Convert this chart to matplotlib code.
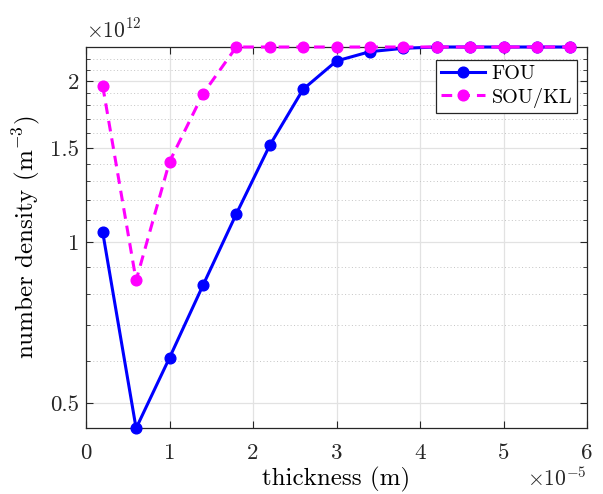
import matplotlib
matplotlib.use("Agg")
import matplotlib.pyplot as plt
import numpy as np
from matplotlib.ticker import FixedLocator, FuncFormatter, NullFormatter

plt.rcParams['font.family'] = ['cmr10', 'DejaVu Serif']
plt.rcParams['mathtext.fontset'] = 'cm'
plt.rcParams['axes.formatter.use_mathtext'] = True

# thickness in units of 1e-5 m
thickness = [0.2, 0.6, 1.0, 1.4, 1.8, 2.2, 2.6, 3.0, 3.4, 3.8, 4.2, 4.6, 5.0, 5.4, 5.8]
# number density in units of 1e12 m^-3
fou = [1.044, 0.449, 0.608, 0.830, 1.129, 1.516, 1.93, 2.18, 2.269, 2.302, 2.315, 2.315, 2.315, 2.315, 2.315]
sou_kl = [1.958, 0.848, 1.413, 1.891, 2.315, 2.315, 2.315, 2.315, 2.315, 2.315, 2.315, 2.315, 2.315, 2.315, 2.315]

yticks = [0.5, 1, 1.5, 2]
yticklabels = ['0.5', '1', '1.5', '2']
xticks = [0, 1, 2, 3, 4, 5, 6]
minor_y = [0.6, 0.7, 0.8, 0.9, 1.1, 1.2, 1.3, 1.4, 1.6, 1.7, 1.8, 1.9, 2.1, 2.2]

fig = plt.figure(figsize=(6.03, 4.94), dpi=100)
ax = fig.add_axes([86/603, 1-428.3/494, (587-86)/603, (428.3-47)/494])

ax.plot(thickness, fou, '-o', color='#0000ff', lw=2.2, markersize=7.7, label='FOU', clip_on=False, zorder=3)
ax.plot(thickness, sou_kl, '--o', color='#ff00ff', lw=2.2, markersize=7.7, label='SOU/KL', clip_on=False,
        dashes=(3.5, 2.3), zorder=4)

ax.set_yscale('log')
ax.set_xlim(0, 6)
ax.set_ylim(0.449, 2.315)
ax.yaxis.set_major_locator(FixedLocator(yticks))
ax.yaxis.set_major_formatter(FuncFormatter(lambda v, p: yticklabels[yticks.index(v)] if v in yticks else ''))
ax.yaxis.set_minor_locator(FixedLocator(minor_y))
ax.yaxis.set_minor_formatter(NullFormatter())
ax.set_xticks(xticks)
ax.set_xticklabels([str(t) for t in xticks])

ax.grid(True, which='major', color='#e2e2e2', lw=0.9, ls='-')
ax.grid(True, which='minor', axis='y', color='#c4c4c4', lw=0.7, ls=(0, (1, 2.5)))
ax.set_axisbelow(True)

for s in ax.spines.values():
    s.set_color('#262626')
    s.set_linewidth(0.9)
ax.tick_params(which='both', direction='in', top=True, right=True, colors='#262626', labelsize=16.5)
ax.tick_params(which='major', length=5)
ax.tick_params(which='minor', length=3)
ax.tick_params(axis='x', pad=11)
ax.tick_params(axis='y', pad=5)

ax.set_xlabel('thickness (m)', fontsize=18, labelpad=3)
ax.set_ylabel('number density (m$^{-3}$)', fontsize=18, labelpad=6)

ax.text(0.0, 1.014, r'$\times 10^{12}$', transform=ax.transAxes, ha='left', va='bottom', fontsize=15.5, color='#262626')
ax.text(1.0, -0.100, r'$\times 10^{-5}$', transform=ax.transAxes, ha='right', va='top', fontsize=15.5, color='#262626')

leg = ax.legend(loc='upper right', bbox_to_anchor=(0.98, 0.965), fontsize=14.5, frameon=True, fancybox=False,
                edgecolor='#262626', framealpha=1, borderpad=0.25, handlelength=2.2, handletextpad=0.3,
                labelspacing=0.2, borderaxespad=0)
leg.get_frame().set_linewidth(0.9)

fig.savefig('out.png', dpi=100)
